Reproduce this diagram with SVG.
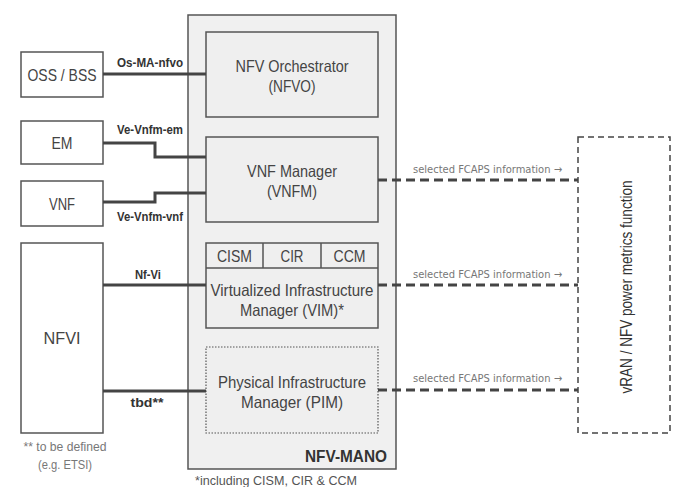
<svg xmlns="http://www.w3.org/2000/svg" width="679" height="487" viewBox="0 0 679 487">
<style>
text{font-family:"Liberation Sans",Arial,sans-serif;fill:#444}
.box{fill:#fff;stroke:#555;stroke-width:1.5}
.inner{fill:#efefef;stroke:#555;stroke-width:1.5}
.big{font-size:16.5px;text-anchor:middle}
.lbl{font-size:13.5px;text-anchor:middle;font-weight:bold;fill:#333}
.sel{font-family:"DejaVu Sans",sans-serif;font-size:11px;fill:#777}
.conn{fill:none;stroke:#444;stroke-width:3}
.dash{fill:none;stroke:#444;stroke-width:3;stroke-dasharray:9,5}
.note{font-size:13.5px;fill:#777;text-anchor:middle}
</style>
<rect width="679" height="487" fill="#fff"/>
<g id="mano">
<rect x="188" y="15" width="208" height="454" fill="#f0f0f0" stroke="#555" stroke-width="1.5"/>
<text x="387" y="462" textLength="82" lengthAdjust="spacingAndGlyphs" style="font-size:17px;font-weight:bold;text-anchor:end;fill:#333">NFV-MANO</text>
</g>
<g id="nfvo">
<rect class="inner" x="206" y="32" width="172" height="85"/>
<text class="big" x="292" y="72" textLength="113" lengthAdjust="spacingAndGlyphs">NFV Orchestrator</text>
<text class="big" x="292" y="92" textLength="47" lengthAdjust="spacingAndGlyphs">(NFVO)</text>
</g>
<g id="vnfm">
<rect class="inner" x="206" y="137" width="172" height="85"/>
<text class="big" x="292" y="177" textLength="90" lengthAdjust="spacingAndGlyphs">VNF Manager</text>
<text class="big" x="292" y="197" textLength="50" lengthAdjust="spacingAndGlyphs">(VNFM)</text>
</g>
<g id="vim">
<rect class="inner" x="206" y="243" width="172" height="85"/>
<line x1="206" y1="268" x2="378" y2="268" stroke="#555" stroke-width="1.5"/>
<line x1="263" y1="243" x2="263" y2="268" stroke="#555" stroke-width="1.5"/>
<line x1="321" y1="243" x2="321" y2="268" stroke="#555" stroke-width="1.5"/>
<text class="big" x="234.5" y="262" textLength="35" lengthAdjust="spacingAndGlyphs">CISM</text>
<text class="big" x="292" y="262" textLength="23" lengthAdjust="spacingAndGlyphs">CIR</text>
<text class="big" x="349.5" y="262" textLength="32" lengthAdjust="spacingAndGlyphs">CCM</text>
<text class="big" x="292" y="296" textLength="163" lengthAdjust="spacingAndGlyphs">Virtualized Infrastructure</text>
<text class="big" x="292" y="316" textLength="104" lengthAdjust="spacingAndGlyphs">Manager (VIM)*</text>
</g>
<g id="pim">
<rect x="206" y="347" width="172" height="86" fill="#efefef" stroke="#555" stroke-width="1.2" stroke-dasharray="1.5,1.5"/>
<text class="big" x="292" y="388" textLength="148" lengthAdjust="spacingAndGlyphs">Physical Infrastructure</text>
<text class="big" x="292" y="408" textLength="102" lengthAdjust="spacingAndGlyphs">Manager (PIM)</text>
</g>
<g id="oss">
<rect class="box" x="21" y="52" width="82" height="45"/>
<text class="big" x="62" y="81" textLength="69" lengthAdjust="spacingAndGlyphs">OSS / BSS</text>
</g>
<g id="em">
<rect class="box" x="21" y="121" width="82" height="43"/>
<text class="big" x="62" y="149" textLength="21" lengthAdjust="spacingAndGlyphs">EM</text>
</g>
<g id="vnf">
<rect class="box" x="21" y="181" width="82" height="45"/>
<text class="big" x="62" y="210" textLength="26" lengthAdjust="spacingAndGlyphs">VNF</text>
</g>
<g id="nfvi">
<rect class="box" x="21" y="243" width="82" height="190"/>
<text class="big" x="62" y="344" textLength="37" lengthAdjust="spacingAndGlyphs">NFVI</text>
</g>
<g id="metrics">
<rect x="578" y="137" width="92" height="296" fill="#fff" stroke="#444" stroke-width="1.5" stroke-dasharray="6,4"/>
<text transform="translate(632,287) rotate(-90)" textLength="213" lengthAdjust="spacingAndGlyphs" style="font-size:16px;text-anchor:middle;fill:#333">vRAN / NFV power metrics function</text>
</g>
<g id="connectors">
<path class="conn" d="M103,74 H206"/>
<path class="conn" d="M103,143 H155 V157 H206"/>
<path class="conn" d="M103,202 H155 V193 H206"/>
<path class="conn" d="M103,285 H206"/>
<path class="conn" d="M103,391 H206"/>
<path class="dash" d="M378,180 H578"/>
<path class="dash" d="M378,285 H578"/>
<path class="dash" d="M378,390 H578"/>
<text class="lbl" x="150" y="67" textLength="66" lengthAdjust="spacingAndGlyphs">Os-MA-nfvo</text>
<text class="lbl" x="150" y="134" textLength="66" lengthAdjust="spacingAndGlyphs">Ve-Vnfm-em</text>
<text class="lbl" x="150" y="221" textLength="66" lengthAdjust="spacingAndGlyphs">Ve-Vnfm-vnf</text>
<text class="lbl" x="148" y="279" textLength="26" lengthAdjust="spacingAndGlyphs">Nf-Vi</text>
<text class="lbl" x="147" y="407" textLength="33" lengthAdjust="spacingAndGlyphs">tbd**</text>
<text class="sel" x="413" y="173" textLength="149" lengthAdjust="spacingAndGlyphs">selected FCAPS information →</text>
<text class="sel" x="413" y="278" textLength="149" lengthAdjust="spacingAndGlyphs">selected FCAPS information →</text>
<text class="sel" x="413" y="382" textLength="149" lengthAdjust="spacingAndGlyphs">selected FCAPS information →</text>
</g>
<text class="note" x="65" y="451" textLength="83" lengthAdjust="spacingAndGlyphs">** to be defined</text>
<text class="note" x="65" y="469" textLength="54" lengthAdjust="spacingAndGlyphs">(e.g. ETSI)</text>
<text x="195" y="485" textLength="162" lengthAdjust="spacingAndGlyphs" style="font-size:13.5px;fill:#555">*including CISM, CIR &amp; CCM</text>
</svg>
